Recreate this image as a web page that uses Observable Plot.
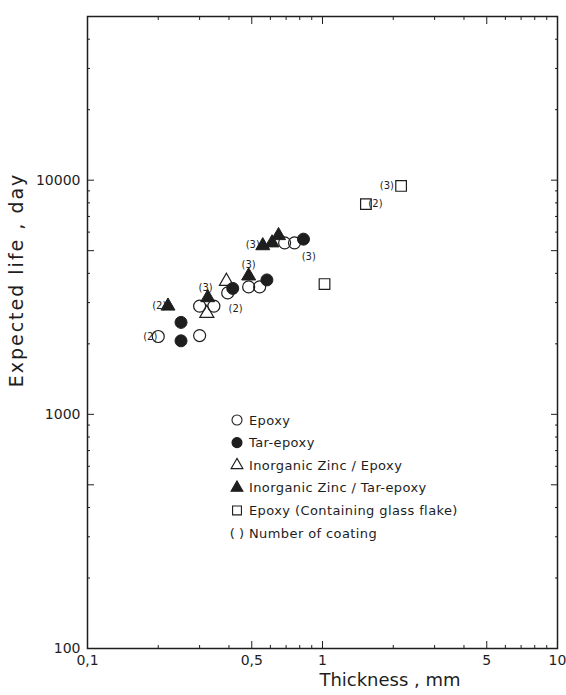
<!DOCTYPE html>
<html><head><meta charset="utf-8">
<script src="https://cdn.jsdelivr.net/npm/d3@7"></script>
<script src="https://cdn.jsdelivr.net/npm/@observablehq/plot@0.6"></script>
<style>body{margin:0;background:#fff} svg{display:block}</style>
</head><body><div id="chart"></div>
<script>
// Thickness (mm) and expected life (day)
const epoxy = [
  {t: 0.20, life: 2150}, {t: 0.30, life: 2170}, {t: 0.30, life: 2900}, {t: 0.345, life: 2900},
  {t: 0.395, life: 3300}, {t: 0.485, life: 3500}, {t: 0.54, life: 3500}, {t: 0.69, life: 5400}, {t: 0.76, life: 5400}
];
const tarEpoxy = [
  {t: 0.25, life: 2060}, {t: 0.25, life: 2470}, {t: 0.415, life: 3450}, {t: 0.58, life: 3750}, {t: 0.83, life: 5600}
];
const zincEpoxy = [
  {t: 0.322, life: 2700}, {t: 0.39, life: 3700}
];
const zincTarEpoxy = [
  {t: 0.22, life: 2900}, {t: 0.325, life: 3150}, {t: 0.485, life: 3900},
  {t: 0.557, life: 5250}, {t: 0.61, life: 5400}, {t: 0.65, life: 5800}
];
const glassFlake = [
  {t: 1.02, life: 3600}, {t: 1.53, life: 7900}, {t: 2.16, life: 9450}
];
// number-of-coating annotations
const coatingLabels = [
  {t: 0.185, life: 2150, text: "(2)", anchor: "end"},
  {t: 0.202, life: 2900, text: "(2)", anchor: "end"},
  {t: 0.318, life: 3480, text: "(3)", anchor: "middle"},
  {t: 0.427, life: 2830, text: "(2)", anchor: "middle"},
  {t: 0.485, life: 4365, text: "(3)", anchor: "middle"},
  {t: 0.505, life: 5310, text: "(3)", anchor: "end"},
  {t: 0.874, life: 4720, text: "(3)", anchor: "middle"},
  {t: 1.88, life: 9450, text: "(3)", anchor: "end"},
  {t: 1.68, life: 7900, text: "(2)", anchor: "start"}
];
const legendItems = ["Epoxy", "Tar-epoxy", "Inorganic Zinc / Epoxy", "Inorganic Zinc / Tar-epoxy", "Epoxy (Containing glass flake)", "Number of coating"];
const xLabelTicks = [0.1, 0.5, 1, 5, 10];
const xMajorTicks = [0.5, 1, 5];
const xMinorTicks = [0.2, 0.3, 0.4, 0.6, 0.7, 0.8, 0.9, 2, 3, 4, 6, 7, 8, 9];
const yLabelTicks = [100, 500, 1000, 5000, 10000, 50000];
const yMajorTicks = [500, 1000, 5000, 10000];
const yMinorTicks = [200, 300, 400, 600, 700, 800, 900, 2000, 3000, 4000, 6000, 7000, 8000, 9000, 20000, 30000, 40000];

const ink = "#1e1e1e";
const font = "DejaVu Sans";
const R = 6, RT = 5.2;

const chart = Plot.plot({
  width: 566, height: 695,
  marginTop: 16, marginRight: 9, marginBottom: 47, marginLeft: 87,
  style: {fontFamily: font, fontSize: "14px", color: ink, background: "white", overflow: "visible"},
  x: {type: "log", domain: [0.1, 10], label: null},
  y: {type: "log", domain: [100, 50000], label: null},
  marks: [
    Plot.axisX({anchor: "bottom", ticks: xLabelTicks, tickSize: 0, tickPadding: 7, tickFormat: d => String(d).replace(".", ","), label: null, fontSize: 14}),
    Plot.axisY({anchor: "left", ticks: yLabelTicks, tickSize: 0, tickPadding: 7, tickFormat: d3.format("d"), label: null, fontSize: 14}),
    Plot.axisX({anchor: "bottom", ticks: xMajorTicks, tickSize: -7, tickFormat: () => "", label: null}),
    Plot.axisX({anchor: "top", ticks: xMajorTicks, tickSize: -7, tickFormat: () => "", label: null}),
    Plot.axisX({anchor: "bottom", ticks: xMinorTicks, tickSize: -3, tickFormat: () => "", label: null}),
    Plot.axisX({anchor: "top", ticks: xMinorTicks, tickSize: -3, tickFormat: () => "", label: null}),
    Plot.axisY({anchor: "left", ticks: yMajorTicks, tickSize: -7, tickFormat: () => "", label: null}),
    Plot.axisY({anchor: "right", ticks: yMajorTicks, tickSize: -7, tickFormat: () => "", label: null}),
    Plot.axisY({anchor: "left", ticks: yMinorTicks, tickSize: -3, tickFormat: () => "", label: null}),
    Plot.axisY({anchor: "right", ticks: yMinorTicks, tickSize: -3, tickFormat: () => "", label: null}),
    Plot.frame({stroke: ink, strokeWidth: 1.5}),
    Plot.dot(tarEpoxy, {x: "t", y: "life", symbol: "circle", r: R, fill: ink, stroke: ink, strokeWidth: 1}),
    Plot.dot(zincTarEpoxy, {x: "t", y: "life", symbol: "triangle", r: RT, fill: ink, stroke: ink, strokeWidth: 1}),
    Plot.dot(epoxy, {x: "t", y: "life", symbol: "circle", r: R, fill: "none", stroke: ink, strokeWidth: 1.2}),
    Plot.dot(zincEpoxy, {x: "t", y: "life", symbol: "triangle", r: RT, fill: "none", stroke: ink, strokeWidth: 1.2}),
    Plot.dot(glassFlake, {x: "t", y: "life", symbol: "square", r: R, fill: "none", stroke: ink, strokeWidth: 1.2}),
    Plot.text(coatingLabels, {x: "t", y: "life", text: "text", textAnchor: "anchor", fontSize: 10, fill: ink, style: "letter-spacing:1.5px"})
  ]
});
document.getElementById("chart").appendChild(chart);

const svg = d3.select(chart);
// axis titles
svg.append("text").attr("x", 390).attr("y", 686).attr("text-anchor", "middle")
  .attr("font-family", font).attr("font-size", 18).attr("fill", ink).text("Thickness , mm");
svg.append("text").attr("transform", "translate(23,280) rotate(-90)").attr("text-anchor", "middle")
  .attr("font-family", font).attr("font-size", 19).attr("letter-spacing", 2).attr("fill", ink).text("Expected life , day");

// legend
const symTypes = [d3.symbolCircle, d3.symbolCircle, d3.symbolTriangle, d3.symbolTriangle, d3.symbolSquare, null];
const symFill = ["none", ink, "none", ink, "none", null];
const lg = svg.append("g").attr("font-family", font).attr("font-size", 13).attr("fill", ink).attr("text-anchor", "start");
legendItems.forEach((label, i) => {
  const y = 420 + i * 22.6;
  if (symTypes[i]) {
    const s = symTypes[i] === d3.symbolTriangle ? 4.4 : 5;
    lg.append("path").attr("transform", `translate(237,${y})`)
      .attr("d", d3.symbol(symTypes[i], Math.PI * s * s)())
      .attr("fill", symFill[i]).attr("stroke", ink).attr("stroke-width", 1.1);
  } else {
    lg.append("text").attr("x", 237).attr("y", y).attr("dy", "0.35em").attr("text-anchor", "middle").text("( )");
  }
  lg.append("text").attr("x", 249).attr("y", y).attr("dy", "0.35em").attr("text-anchor", "start").attr("letter-spacing", "0.4").text(label);
});
</script>
</body></html>
